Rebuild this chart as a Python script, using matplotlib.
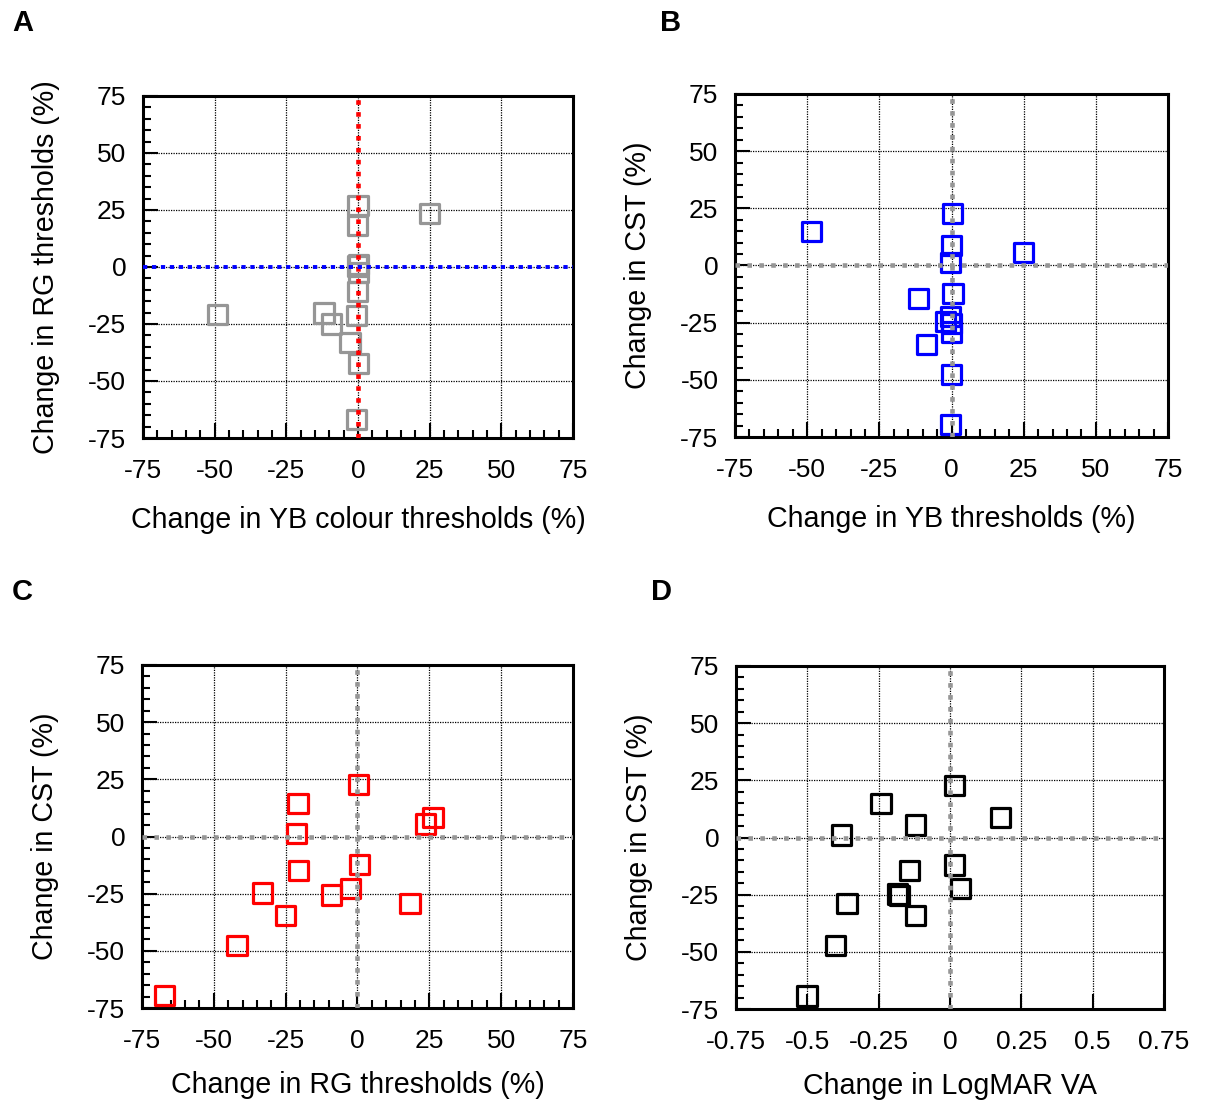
import matplotlib
matplotlib.use("Agg")
import matplotlib.pyplot as plt
from matplotlib.ticker import MultipleLocator, FixedLocator

plt.rcParams['font.family'] = ['Liberation Sans', 'DejaVu Sans']
plt.rcParams['axes.unicode_minus'] = False

# ---- data ----
pct_ticks = [-75, -50, -25, 0, 25, 50, 75]
pct_labels = ["-75", "-50", "-25", "0", "25", "50", "75"]
va_ticks = [-0.75, -0.5, -0.25, 0, 0.25, 0.5, 0.75]
va_labels = ["-0.75", "-0.5", "-0.25", "0", "0.25", "0.5", "0.75"]

A_yb = [0.0, 25.0, -0.3, 0.2, -0.2, 0.3, -0.2, -49.0, -11.9, -0.4, -2.8, -9.2, 0.2, -0.4]
A_rg = [26.9, 23.6, 18.2, 1.2, 0.4, -2.4, -10.7, -20.7, -20.2, -21.2, -33.0, -25.0, -42.2, -67.0]

B_yb = [-48.6, 0.3, 0.0, -0.3, 25.0, 0.5, -11.5, -0.3, -2.2, 0.0, 0.0, -8.7, 0.0, -0.3]
B_cst = [14.9, 22.7, 8.7, 1.2, 5.7, -12.2, -14.6, -22.3, -24.6, -25.5, -29.1, -34.4, -47.7, -69.6]

C_rg = [0.4, -20.7, 26.3, 23.7, -21.2, 0.8, -20.5, -2.4, -33.0, -9.1, 18.3, -25.1, -41.9, -67.1]
C_cst = [22.6, 14.6, 8.4, 5.5, 1.2, -12.4, -14.8, -22.6, -24.7, -25.6, -29.3, -34.4, -47.7, -69.6]

D_va = [0.017, -0.242, 0.178, -0.121, -0.381, 0.017, -0.142, 0.038, -0.183, -0.178, -0.361, -0.121, -0.401, -0.501]
D_cst = [22.7, 14.8, 8.7, 5.5, 1.1, -12.0, -14.4, -22.3, -24.7, -25.3, -28.8, -34.1, -47.4, -69.3]

GRAY = '#969696'

fig = plt.figure(figsize=(12.06, 11.03), dpi=100)

positions = {
    'A': [0.1186, 0.6029, 0.3566, 0.3101],
    'B': [0.6095, 0.6038, 0.3590, 0.3110],
    'C': [0.1177, 0.0861, 0.3574, 0.3110],
    'D': [0.6103, 0.0852, 0.3549, 0.3110],
}

label_pos = {'A': (0.010, 0.979), 'B': (0.547, 0.979), 'C': (0.010, 0.463), 'D': (0.540, 0.463)}


def setup(ax, xticks, xlabels, xminor, xlabel, ylabel, xlim, xlabelpad):
    ax.set_xlim(*xlim)
    ax.set_ylim(-75, 75)
    ax.xaxis.set_major_locator(FixedLocator(xticks))
    ax.set_xticklabels(xlabels)
    ax.yaxis.set_major_locator(FixedLocator(pct_ticks))
    ax.set_yticklabels(pct_labels)
    if xminor:
        ax.xaxis.set_minor_locator(MultipleLocator(xminor))
    ax.yaxis.set_minor_locator(MultipleLocator(5))
    ax.tick_params(which='both', direction='in', top=False, right=False, width=1.5, colors='black')
    ax.tick_params(which='major', length=11)
    ax.tick_params(which='minor', length=6)
    ax.tick_params(axis='x', which='major', labelsize=19, pad=15)
    ax.tick_params(axis='y', which='major', labelsize=19, pad=12)
    for s in ax.spines.values():
        s.set_linewidth(2.2)
        s.set_color('black')
    ax.grid(True, which='major', color='black', linestyle=(0, (1, 1)), linewidth=0.9)
    ax.set_axisbelow(True)
    ax.set_xlabel(xlabel, fontsize=20.6, labelpad=xlabelpad)
    ax.set_ylabel(ylabel, fontsize=20.6, labelpad=20)


def refline(ax, color, lw, dash, horizontal):
    if horizontal:
        ax.axhline(0, color=color, linewidth=lw, linestyle=(0, dash), zorder=5)
    else:
        ax.axvline(0, color=color, linewidth=lw, linestyle=(0, dash), zorder=5)


def pts(ax, x, y, color):
    ax.scatter(x, y, s=190, marker='s', facecolors='none', edgecolors=color,
               linewidths=2.3, zorder=4, clip_on=False)


GDASH = (1, 1.6)

# Panel A
axA = fig.add_axes(positions['A'])
setup(axA, pct_ticks, pct_labels, 5, "Change in YB colour thresholds (%)",
      "Change in RG thresholds (%)", (-75, 75), 17)
pts(axA, A_yb, A_rg, GRAY)
refline(axA, 'red', 3.3, GDASH, False)
refline(axA, 'blue', 2.8, (1.1, 1.2), True)

# Panel B
axB = fig.add_axes(positions['B'])
setup(axB, pct_ticks, pct_labels, 5, "Change in YB thresholds (%)",
      "Change in CST (%)", (-75, 75), 17)
pts(axB, B_yb, B_cst, 'blue')
refline(axB, GRAY, 3.3, GDASH, False)
refline(axB, GRAY, 3.3, GDASH, True)

# Panel C
axC = fig.add_axes(positions['C'])
setup(axC, pct_ticks, pct_labels, 5, "Change in RG thresholds (%)",
      "Change in CST (%)", (-75, 75), 13)
pts(axC, C_rg, C_cst, 'red')
refline(axC, GRAY, 3.3, GDASH, False)
refline(axC, GRAY, 3.3, GDASH, True)

# Panel D
axD = fig.add_axes(positions['D'])
setup(axD, va_ticks, va_labels, None, "Change in LogMAR VA",
      "Change in CST (%)", (-0.75, 0.75), 13)
pts(axD, D_va, D_cst, 'black')
refline(axD, GRAY, 3.3, GDASH, False)
refline(axD, GRAY, 3.3, GDASH, True)

for k, (x, y) in label_pos.items():
    fig.text(x, y, k, fontsize=21, fontweight='bold', ha='left', va='center')

fig.savefig("out.png", dpi=100)
